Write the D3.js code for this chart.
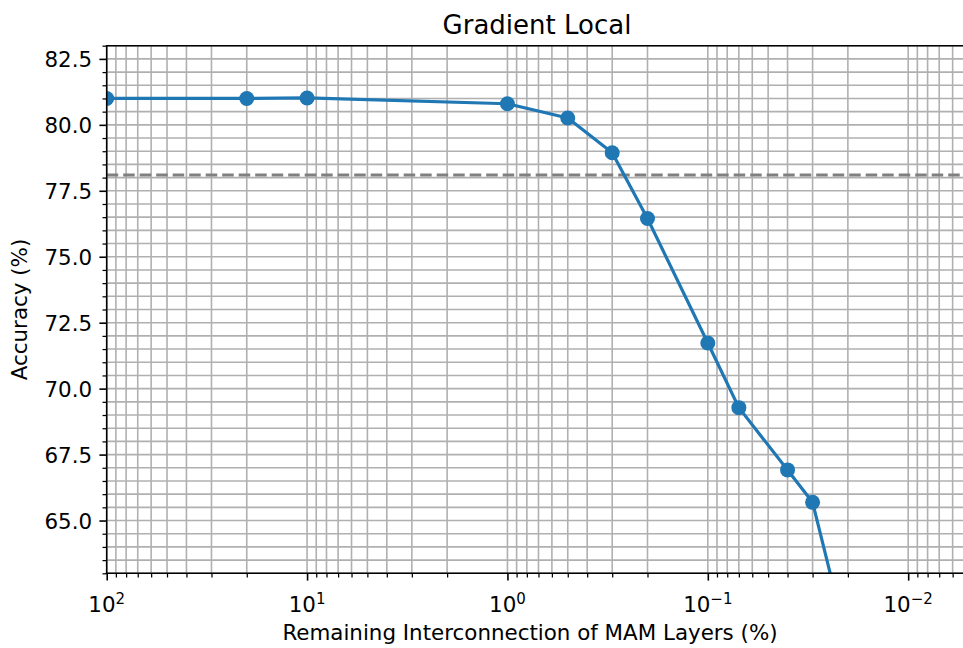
<!DOCTYPE html>
<html>
<head>
<meta charset="utf-8">
<script src="https://cdn.jsdelivr.net/npm/d3@7"></script>
<style>
  html, body { margin: 0; padding: 0; background: #fff; }
  svg { display: block; font-family: "DejaVu Sans", sans-serif; }
</style>
</head>
<body>
<svg id="chart" width="963" height="648"></svg>
<script>
// Remaining interconnection (%) of MAM layers and resulting accuracy (%)
const remaining = [100, 20, 10, 1, 0.5, 0.3, 0.2, 0.1, 0.07, 0.04, 0.03, 0.02];
const accuracy  = [81.0, 81.0, 81.02, 80.8, 80.26, 78.94, 76.45, 71.73, 69.28, 66.92, 65.69, 60.3];
const baseline = 78.1;

const xDomain = [100, 0.005];
const yDomain = [63, 83];
const yMajorTicks = [65, 67.5, 70, 72.5, 75, 77.5, 80, 82.5];
const xMajorExp = [2, 1, 0, -1, -2];

const m = { left: 106.7, top: 45.7, right: 968.5, bottom: 573.3 };
const fs = 21.4;

const svg = d3.select("#chart");
const x = d3.scaleLog().domain(xDomain).range([m.left, m.right]);
const y = d3.scaleLinear().domain(yDomain).range([m.bottom, m.top]);

const gridColor = "#b0b0b0";
const blue = "#1f77b4";

svg.append("defs").append("clipPath").attr("id", "plot-clip")
  .append("rect").attr("x", m.left).attr("y", m.top)
  .attr("width", m.right - m.left).attr("height", m.bottom - m.top);

// tick positions
const xAll = [];
for (let e = -3; e <= 2; e++) {
  for (let k = 1; k <= 9; k++) {
    const v = k * Math.pow(10, e);
    if (v <= xDomain[0] + 1e-9 && v >= xDomain[1] - 1e-12) xAll.push(v);
  }
}
const xMinor = xAll.filter(v => Math.abs(Math.log10(v) - Math.round(Math.log10(v))) > 1e-9);
const yAll = d3.range(63, 83.001, 0.5);
const yMinor = yAll.filter(v => !yMajorTicks.some(t => Math.abs(t - v) < 1e-9));

// grid (major + minor)
const grid = svg.append("g").attr("clip-path", "url(#plot-clip)");
grid.selectAll(".vg").data(xAll).join("line")
  .attr("x1", d => x(d)).attr("x2", d => x(d))
  .attr("y1", m.top).attr("y2", m.bottom)
  .attr("stroke", gridColor).attr("stroke-width", 1.6);
grid.selectAll(".hg").data(yAll).join("line")
  .attr("x1", m.left).attr("x2", m.right)
  .attr("y1", d => y(d)).attr("y2", d => y(d))
  .attr("stroke", gridColor).attr("stroke-width", 1.6);

// reference accuracy line
const plot = svg.append("g").attr("clip-path", "url(#plot-clip)");
plot.append("line")
  .attr("x1", m.left).attr("x2", m.right)
  .attr("y1", y(baseline)).attr("y2", y(baseline))
  .attr("stroke", "#808080").attr("stroke-width", 3.1)
  .attr("stroke-dasharray", "11.5,5");

// accuracy curve
const pts = remaining.map((r, i) => [r, accuracy[i]]);
plot.append("path")
  .datum(pts)
  .attr("d", d3.line().x(d => x(d[0])).y(d => y(d[1])))
  .attr("fill", "none").attr("stroke", blue)
  .attr("stroke-width", 3.2).attr("stroke-linejoin", "round");
plot.selectAll(".pt").data(pts).join("circle")
  .attr("cx", d => x(d[0])).attr("cy", d => y(d[1]))
  .attr("r", 7.5).attr("fill", blue);

// axes frame
const frame = svg.append("g").attr("stroke", "#000").attr("stroke-width", 1.6).attr("stroke-linecap", "square");
frame.append("line").attr("x1", m.left).attr("x2", m.left).attr("y1", m.top).attr("y2", m.bottom);
frame.append("line").attr("x1", m.right).attr("x2", m.right).attr("y1", m.top).attr("y2", m.bottom);
frame.append("line").attr("x1", m.left).attr("x2", m.right).attr("y1", m.top).attr("y2", m.top);
frame.append("line").attr("x1", m.left).attr("x2", m.right).attr("y1", m.bottom).attr("y2", m.bottom);

// y axis
const yAxis = svg.append("g").attr("transform", `translate(${m.left},0)`)
  .call(d3.axisLeft(y).tickValues(yMajorTicks).tickFormat(d3.format(".1f"))
    .tickSize(7.3).tickPadding(7.3));
yAxis.select(".domain").remove();
yAxis.selectAll(".tick line").attr("stroke-width", 1.6).attr("stroke", "#000");
yAxis.selectAll(".tick text").attr("font-size", fs).attr("fill", "#000")
  .attr("font-family", "DejaVu Sans").attr("dy", "0.36em");
const yMinorAxis = svg.append("g").attr("transform", `translate(${m.left},0)`)
  .call(d3.axisLeft(y).tickValues(yMinor).tickFormat("").tickSize(4.2));
yMinorAxis.select(".domain").remove();
yMinorAxis.selectAll(".tick line").attr("stroke-width", 1.25).attr("stroke", "#000");

// x axis
const xMajorVals = xMajorExp.map(e => Math.pow(10, e));
const xAxis = svg.append("g").attr("transform", `translate(0,${m.bottom})`)
  .call(d3.axisBottom(x).tickValues(xMajorVals).tickFormat("").tickSize(7.3));
xAxis.select(".domain").remove();
xAxis.selectAll(".tick line").attr("stroke-width", 1.6).attr("stroke", "#000");
const xMinorAxis = svg.append("g").attr("transform", `translate(0,${m.bottom})`)
  .call(d3.axisBottom(x).tickValues(xMinor).tickFormat("").tickSize(4.2));
xMinorAxis.select(".domain").remove();
xMinorAxis.selectAll(".tick line").attr("stroke-width", 1.25).attr("stroke", "#000");

// x tick labels as powers of ten
xMajorExp.forEach(e => {
  const t = svg.append("text")
    .attr("x", x(Math.pow(10, e))).attr("y", 611.5)
    .attr("text-anchor", "middle").attr("font-size", fs).attr("fill", "#000");
  t.append("tspan").text("10");
  t.append("tspan").attr("font-size", 15).attr("dy", -7.5)
    .text(e < 0 ? "\u2212" + Math.abs(e) : String(e));
});

// labels
svg.append("text").attr("x", 537).attr("y", 34)
  .attr("text-anchor", "middle").attr("font-size", 26).attr("fill", "#000")
  .text("Gradient Local");
svg.append("text").attr("x", 530).attr("y", 639.5)
  .attr("text-anchor", "middle").attr("font-size", fs).attr("fill", "#000")
  .text("Remaining Interconnection of MAM Layers (%)");
svg.append("text")
  .attr("transform", `translate(27,${(m.top + m.bottom) / 2}) rotate(-90)`)
  .attr("text-anchor", "middle").attr("font-size", fs).attr("fill", "#000")
  .text("Accuracy (%)");
</script>
</body>
</html>
